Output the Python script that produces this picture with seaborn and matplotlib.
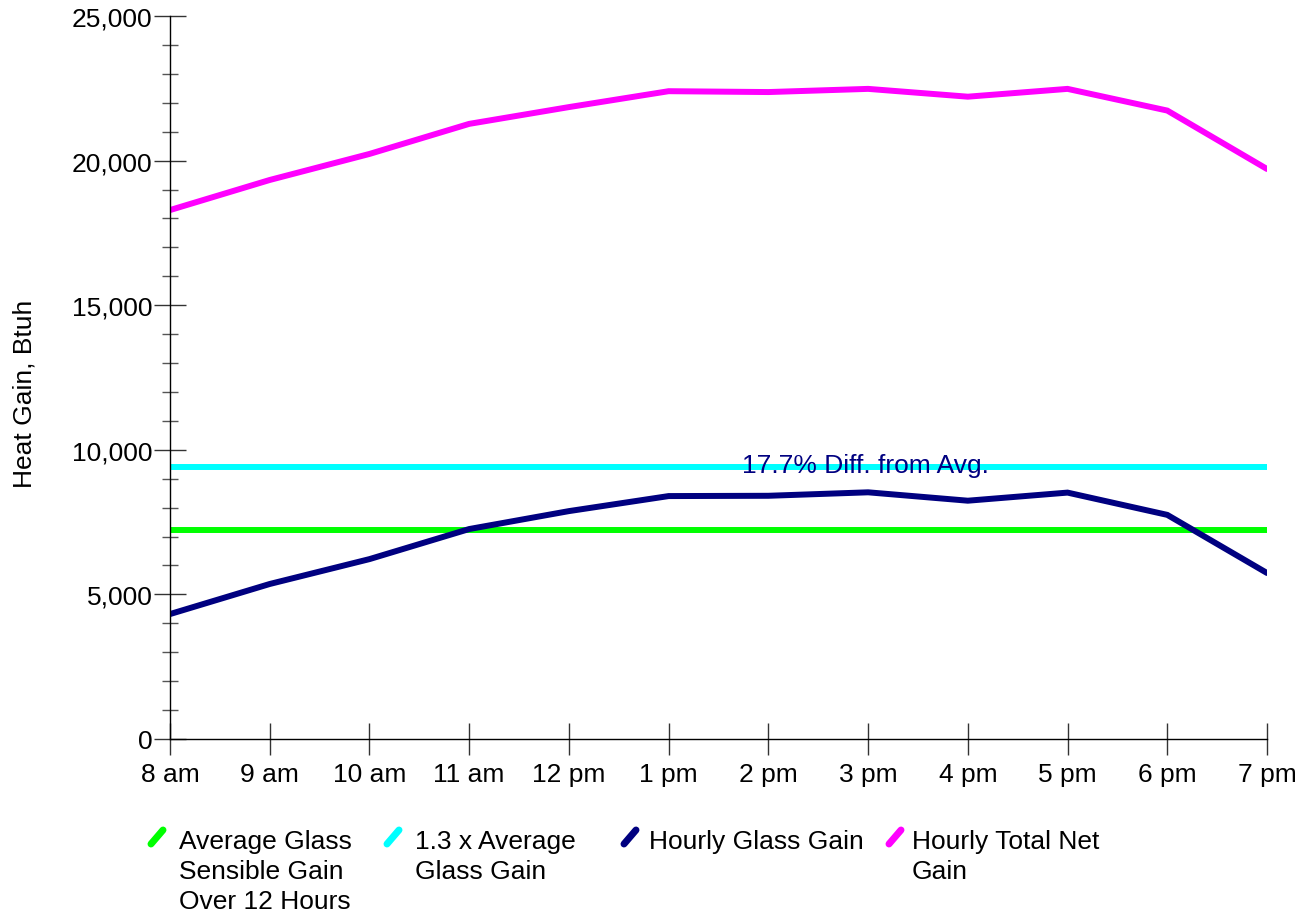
import numpy as np
import pandas as pd
import matplotlib
matplotlib.use('Agg')
import matplotlib.pyplot as plt
import matplotlib.ticker as mticker
from matplotlib.lines import Line2D
import seaborn as sns

# Values
hours = ['8 am', '9 am', '10 am', '11 am', '12 pm', '1 pm', '2 pm', '3 pm',
         '4 pm', '5 pm', '6 pm', '7 pm']
glass_gain = [4320, 5360, 6220, 7260, 7880, 8400, 8410, 8530, 8240, 8520, 7750, 5740]
total_net_gain = [18290, 19330, 20230, 21270, 21850, 22400, 22370, 22480, 22210, 22480, 21730, 19710]
avg_glass_gain = 7220
avg_glass_gain_13 = 9390

labels = [['Average Glass', 'Sensible Gain', 'Over 12 Hours'],
          ['1.3 x Average', 'Glass Gain'],
          ['Hourly Glass Gain'],
          ['Hourly Total Net', 'Gain']]
colors = ['#00ff00', '#00ffff', '#000080', '#ff00ff']

df = pd.DataFrame({
    'hour': np.arange(len(hours)),
    'avg': [avg_glass_gain] * len(hours),
    'avg13': [avg_glass_gain_13] * len(hours),
    'glass': glass_gain,
    'total': total_net_gain,
})

sns.set_style('white')
plt.rcParams['font.family'] = ['Liberation Sans', 'DejaVu Sans']
plt.rcParams['text.color'] = 'black'
plt.rcParams['axes.labelcolor'] = 'black'
fs = 19

W, H = 1305, 912
fig = plt.figure(figsize=(W / 100, H / 100), dpi=100)
ax = fig.add_axes([170 / W, 1 - 740 / H, 1097 / W, 723 / H])

for col, c in zip(['avg', 'avg13', 'glass', 'total'], colors):
    sns.lineplot(data=df, x='hour', y=col, color=c, lw=4.3, ax=ax,
                 solid_capstyle='round', solid_joinstyle='miter')

ax.annotate('17.7% Diff. from Avg.', xy=(5.74, avg_glass_gain_13), xytext=(0, -5),
            textcoords='offset pixels', color='#000080', fontsize=fs,
            va='baseline', ha='left')

ax.set_xlim(0, len(hours) - 1)
ax.set_ylim(0, 25000)
ax.set_xticks(np.arange(len(hours)))
ax.set_xticklabels(hours)
ax.yaxis.set_major_locator(mticker.MultipleLocator(5000))
ax.yaxis.set_minor_locator(mticker.MultipleLocator(1000))
ax.yaxis.set_major_formatter(mticker.FuncFormatter(lambda v, p: f'{int(v):,}'))

for s in ['top', 'right']:
    ax.spines[s].set_visible(False)
for s in ['left', 'bottom']:
    ax.spines[s].set_color('black')
    ax.spines[s].set_linewidth(1.0)

ax.tick_params(left=True, bottom=True, which='both')
ax.tick_params(axis='both', which='major', direction='inout', length=23, width=1,
               color='#333333', labelsize=fs, labelcolor='black', pad=1)
ax.tick_params(axis='x', which='major', pad=5)
ax.tick_params(axis='y', which='minor', direction='inout', length=12, width=1,
               color='#555555')

ax.set_xlabel('')
ax.set_ylabel('Heat Gain, Btuh', fontsize=fs)
ax.yaxis.set_label_coords(-0.122, 0.479)

# legend below the plot: diagonal swatch and wrapped label per entry
swatch_x = [147, 383, 620, 885]
text_x = [179, 415, 649, 912]
for c, lines, sx, tx in zip(colors, labels, swatch_x, text_x):
    fig.add_artist(Line2D([(sx + 4) / W, (sx + 16) / W], [1 - 845 / H, 1 - 831 / H],
                          transform=fig.transFigure, color=c, lw=5,
                          solid_capstyle='round'))
    for i, line in enumerate(lines):
        fig.text(tx / W, 1 - (849 + 30 * i) / H, line, fontsize=fs,
                 ha='left', va='baseline', color='black')

fig.savefig('out.png', dpi=100)
